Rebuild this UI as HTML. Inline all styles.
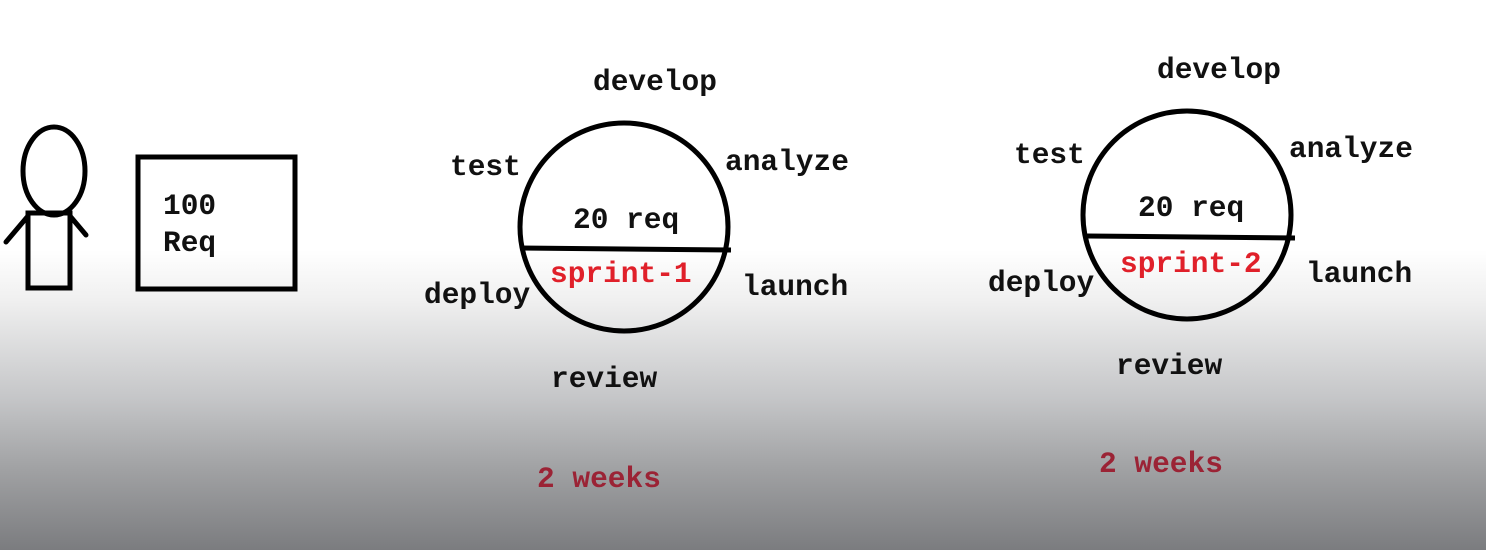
<!DOCTYPE html>
<html><head><style>
html,body{margin:0;padding:0}
body{width:1486px;height:550px;overflow:hidden;background:linear-gradient(to bottom,#fff 0,#fff 250px,#f0f0f0 300px,#c4c5c7 400px,#a0a1a3 470px,#7b7c7f 550px)}
svg{position:absolute;left:0;top:0}
text{font-family:"Liberation Mono",monospace;font-weight:bold;font-size:29.5px;fill:#111}
.r{fill:#e0202a}.d{fill:#9b2335}
</style></head><body>
<svg width="1486" height="550" viewBox="0 0 1486 550">
<g fill="none" stroke="#000" stroke-width="5">
<ellipse cx="54" cy="171" rx="31" ry="44"/>
<rect x="28" y="213" width="42" height="75"/>
<line x1="28" y1="216" x2="6" y2="242" stroke-linecap="round"/>
<line x1="70" y1="216" x2="86" y2="235" stroke-linecap="round"/>
<rect x="138" y="157" width="157" height="132"/>
<circle cx="624" cy="227" r="104"/>
<line x1="520" y1="248" x2="731" y2="250"/>
<circle cx="1187" cy="215" r="104"/>
<line x1="1087" y1="236" x2="1295" y2="238"/>
</g>
<text x="163" y="214" font-size="27">100</text>
<text x="163" y="251" font-size="27">Req</text>
<text x="593" y="90">develop</text>
<text x="450" y="175">test</text>
<text x="725" y="170">analyze</text>
<text x="573" y="228">20 req</text>
<text x="550" y="282" class="r">sprint-1</text>
<text x="742" y="295">launch</text>
<text x="424" y="303">deploy</text>
<text x="551" y="387">review</text>
<text x="537" y="487" class="d">2 weeks</text>
<text x="1157" y="78">develop</text>
<text x="1014" y="163">test</text>
<text x="1289" y="157">analyze</text>
<text x="1138" y="216">20 req</text>
<text x="1120" y="272" class="r">sprint-2</text>
<text x="1306" y="282">launch</text>
<text x="988" y="291">deploy</text>
<text x="1116" y="374">review</text>
<text x="1099" y="472" class="d">2 weeks</text>
</svg>
</body></html>
